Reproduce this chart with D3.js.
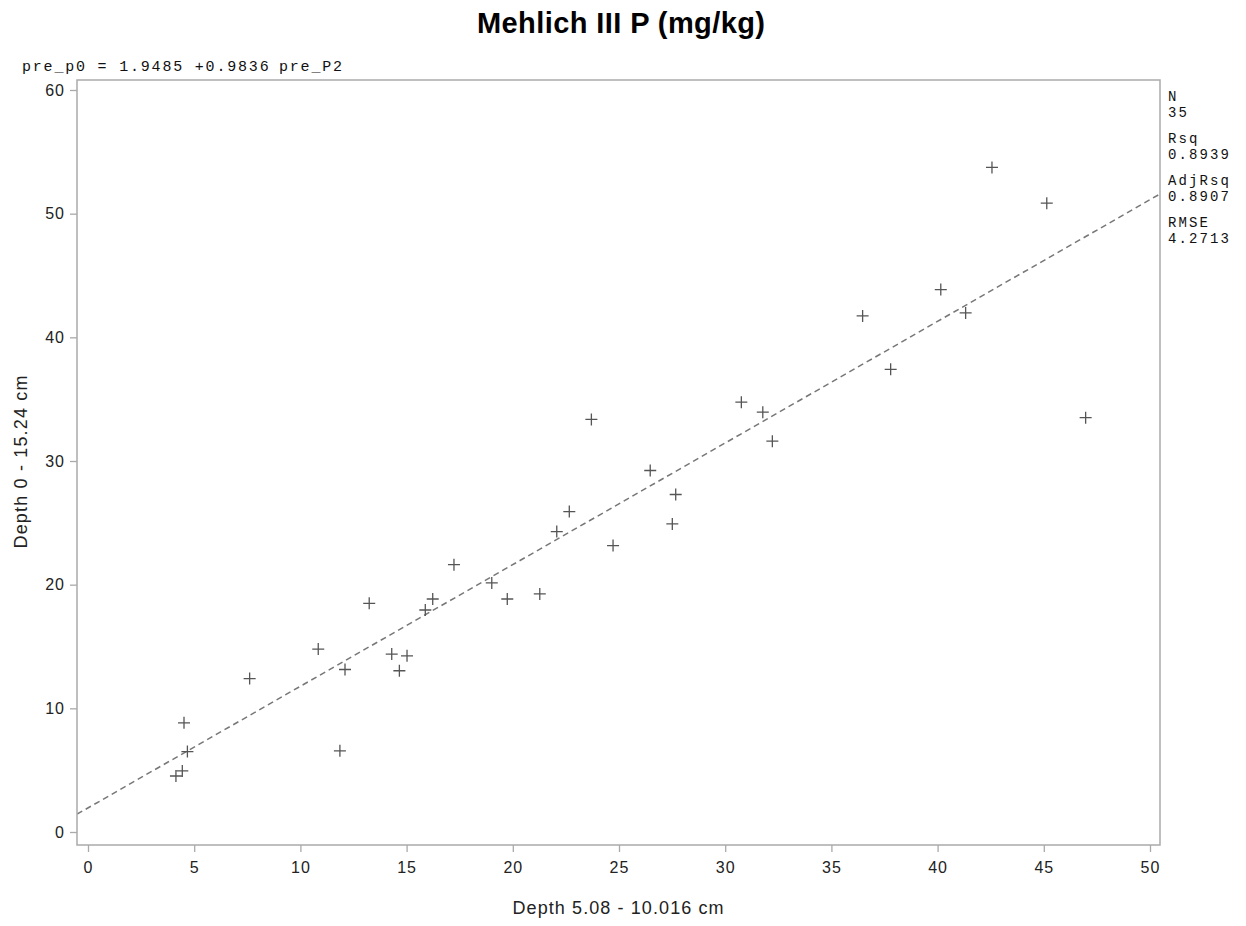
<!DOCTYPE html>
<html>
<head>
<meta charset="utf-8">
<script src="https://cdn.jsdelivr.net/npm/d3@7"></script>
<style>
	body { margin: 0; background: #fff; }
	svg { display: block; }
	.tick-label { font-family: "Liberation Sans", Arial, sans-serif; font-size: 16px; fill: #222; letter-spacing: 1px; }
	.axis-title { font-family: "Liberation Sans", Arial, sans-serif; font-size: 18px; fill: #222; }
	.mono { font-family: "Liberation Mono", "Courier New", monospace; font-size: 15px; fill: #111; letter-spacing: 1.8px; }
	.stat { font-family: "Liberation Mono", "Courier New", monospace; font-size: 14px; fill: #111; letter-spacing: 2.1px; }
</style>
</head>
<body>
<svg id="vis" width="1246" height="926"></svg>
<script>
	// Scatter data: x = Depth 5.08 - 10.016 cm, y = Depth 0 - 15.24 cm
	const xValues = [4.14, 4.44, 4.52, 4.68, 7.61, 10.84, 11.86, 12.10, 13.24, 14.30, 14.66, 15.02, 15.88, 16.23, 17.23,
		19.01, 19.74, 21.27, 22.07, 22.66, 23.70, 24.72, 26.47, 27.51, 27.67, 30.76, 31.77, 32.22,
		36.47, 37.79, 40.15, 41.32, 42.56, 45.14, 46.97];
	const yValues = [4.53, 4.94, 8.83, 6.50, 12.41, 14.79, 6.56, 13.14, 18.49, 14.39, 13.04, 14.25, 17.95, 18.84, 21.62,
		20.14, 18.84, 19.25, 24.29, 25.91, 33.36, 23.16, 29.23, 24.91, 27.29, 34.76, 33.95, 31.60,
		41.73, 37.41, 43.86, 41.97, 53.74, 50.85, 33.50];

	// fitted line
	const intercept = 1.9485;
	const slope = 0.9836;

	const xTicks = [0, 5, 10, 15, 20, 25, 30, 35, 40, 45, 50];
	const yTicks = [0, 10, 20, 30, 40, 50, 60];

	const statLabels = ["N", "Rsq", "AdjRsq", "RMSE"];
	const statValues = ["35", "0.8939", "0.8907", "4.2713"];

	const title = "Mehlich III P (mg/kg)";
	const xTitle = "Depth 5.08 - 10.016 cm";
	const yTitle = "Depth 0 - 15.24 cm";

	const svg = d3.select("svg#vis");

	// frame of the plot area
	const frame = {left: 77, right: 1160, top: 80, bottom: 845};

	const x = d3.scaleLinear().domain([0, 50]).range([88, 1150]);
	const y = d3.scaleLinear().domain([0, 60]).range([832, 90]);

	// title
	svg.append("text")
		.attr("x", 621)
		.attr("y", 33)
		.attr("text-anchor", "middle")
		.attr("textLength", 288).attr("lengthAdjust", "spacing")
		.style("font-family", "'Liberation Sans', Arial, sans-serif")
		.style("font-weight", "bold")
		.style("font-size", "29px")
		.attr("fill", "#000")
		.text(title);

	// equation, top left
	svg.append("text").attr("class", "mono")
		.attr("x", 22).attr("y", 71)
		.text("pre_p0 = " + intercept.toFixed(4) + " +" + slope.toFixed(4));
	svg.append("text").attr("class", "mono")
		.attr("x", 279).attr("y", 71)
		.text("pre_P2");

	// clip for regression line
	svg.append("clipPath").attr("id", "clip")
		.append("rect")
		.attr("x", frame.left).attr("y", frame.top)
		.attr("width", frame.right - frame.left)
		.attr("height", frame.bottom - frame.top);

	// regression line across the frame
	const x0 = x.invert(frame.left), x1 = x.invert(frame.right);
	svg.append("path")
		.datum([x0, x1])
		.attr("clip-path", "url(#clip)")
		.attr("fill", "none")
		.attr("stroke", "#777")
		.attr("stroke-width", 1.5)
		.attr("stroke-dasharray", "6,4")
		.attr("d", d3.line().x(d => x(d)).y(d => y(intercept + slope * d)));

	// markers
	const pts = xValues.map((v, i) => [v, yValues[i]]);
	svg.append("g").selectAll("path.pt")
		.data(pts)
		.enter()
		.append("path")
		.attr("class", "pt")
		.attr("fill", "none")
		.attr("stroke", "#555")
		.attr("stroke-width", 1.3)
		.attr("d", d => {
			const px = x(d[0]), py = y(d[1]);
			return `M${px - 6},${py}H${px + 6}M${px},${py - 6}V${py + 6}`;
		});

	// frame
	svg.append("rect")
		.attr("x", frame.left).attr("y", frame.top)
		.attr("width", frame.right - frame.left)
		.attr("height", frame.bottom - frame.top)
		.attr("fill", "none")
		.attr("stroke", "#aaa")
		.attr("stroke-width", 1.5);

	// axes
	const xAxis = svg.append("g")
		.attr("transform", translate(0, frame.bottom))
		.call(d3.axisBottom(x).tickValues(xTicks).tickSize(7).tickPadding(10).tickFormat(d3.format("d")));
	const yAxis = svg.append("g")
		.attr("transform", translate(frame.left, 0))
		.call(d3.axisLeft(y).tickValues(yTicks).tickSize(7).tickPadding(5).tickFormat(d3.format("d")));

	[xAxis, yAxis].forEach(a => {
		a.select(".domain").remove();
		a.selectAll(".tick line").attr("stroke", "#aaa").attr("stroke-width", 1.3);
		a.selectAll(".tick text").attr("class", "tick-label").attr("fill", null);
		a.attr("font-family", null).attr("font-size", null);
	});
	xAxis.selectAll(".tick text").attr("dy", "0.71em");

	// axis titles
	svg.append("text").attr("class", "axis-title")
		.attr("x", 618).attr("y", 914)
		.attr("text-anchor", "middle")
		.attr("textLength", 211).attr("lengthAdjust", "spacing")
		.text(xTitle);

	svg.append("text").attr("class", "axis-title")
		.attr("transform", translate(27, 462) + " rotate(-90)")
		.attr("text-anchor", "middle")
		.attr("textLength", 173).attr("lengthAdjust", "spacing")
		.text(yTitle);

	// statistics box on the right
	const stats = svg.append("g").attr("transform", translate(1168, 101));
	statLabels.forEach((lab, i) => {
		stats.append("text").attr("class", "stat").attr("x", 0).attr("y", i * 42).text(lab);
		stats.append("text").attr("class", "stat").attr("x", 0).attr("y", i * 42 + 16).text(statValues[i]);
	});

	function translate(a, b) {
		return "translate(" + a + "," + b + ")";
	}
</script>
</body>
</html>
